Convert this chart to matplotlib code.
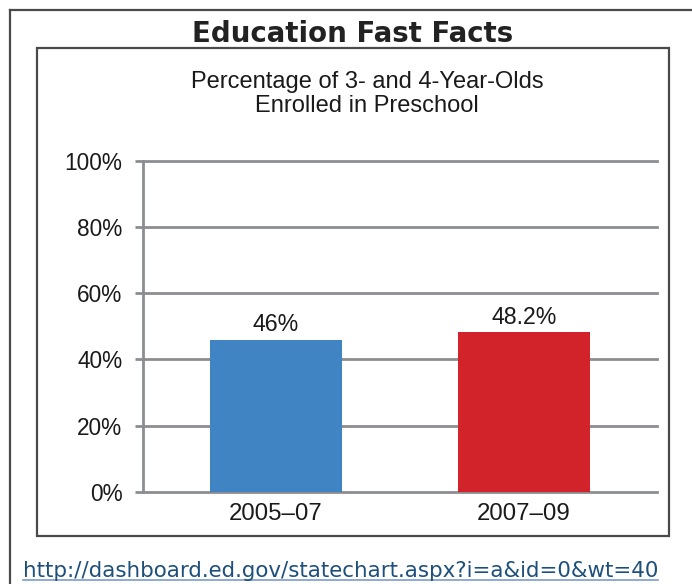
import matplotlib
matplotlib.use("Agg")
import matplotlib.pyplot as plt
from matplotlib.lines import Line2D

periods = ["2005\u201307", "2007\u201309"]
enrolled = [46.0, 48.2]
value_labels = ["46%", "48.2%"]
bar_colors = ["#4084c4", "#d2232a"]
y_ticks = [0, 20, 40, 60, 80, 100]

W, H = 692, 584
grid_gray = "#8b8d90"
frame_gray = "#4a4a4a"


def fx(px):
    return px / W


def fy(py):
    return 1 - py / H


fig = plt.figure(figsize=(W / 100, H / 100), dpi=100)
fig.patch.set_facecolor("white")

# outer panel edge (left and top only show)
fig.add_artist(Line2D([fx(10), fx(10)], [fy(10), 0], color=frame_gray, lw=1.6))
fig.add_artist(Line2D([fx(10), 1], [fy(10), fy(10)], color=frame_gray, lw=1.6))

# inner chart box
bx0, by0, bx1, by1 = 37, 48, 669, 536
fig.add_artist(plt.Rectangle((fx(bx0), fy(by1)), fx(bx1) - fx(bx0), fy(by0) - fy(by1),
                             transform=fig.transFigure, fill=False,
                             edgecolor=frame_gray, lw=1.6))

fig.text(fx(353), fy(42), "Education Fast Facts", ha="center", va="baseline",
         fontsize=19.9, fontweight="bold", family="DejaVu Sans", color="#222222")

fig.text(fx(367), fy(88), "Percentage of 3- and 4-Year-Olds", ha="center",
         va="baseline", fontsize=17, family="Liberation Sans", color="#1a1a1a")
fig.text(fx(367), fy(112), "Enrolled in Preschool", ha="center",
         va="baseline", fontsize=17, family="Liberation Sans", color="#1a1a1a")

ax = fig.add_axes([fx(143), fy(492), fx(657) - fx(143), fy(160.7) - fy(492)])
x = list(range(len(periods)))
bars = ax.bar(x, enrolled, width=0.532, color=bar_colors, zorder=3)

ax.set_xlim(-0.536, 1.536)
ax.set_ylim(0, 100)
ax.set_yticks(y_ticks)
ax.set_yticklabels([f"{t}%" for t in y_ticks])
ax.set_xticks(x)
ax.set_xticklabels(periods)

for t in y_ticks:
    ax.axhline(t, color=grid_gray, lw=2, zorder=1, clip_on=False)

for s in ["top", "right", "bottom"]:
    ax.spines[s].set_visible(False)
ax.spines["left"].set_color(grid_gray)
ax.spines["left"].set_linewidth(2)
ax.spines["left"].set_zorder(2)

ax.tick_params(axis="y", length=5.8, width=2, color=grid_gray, pad=9,
               labelsize=16.3, labelcolor="#1a1a1a")
ax.tick_params(axis="x", length=0, pad=8, labelsize=17.3, labelcolor="#1a1a1a")
for lab in ax.get_xticklabels() + ax.get_yticklabels():
    lab.set_family("Liberation Sans")

for bar, lab in zip(bars, value_labels):
    ax.annotate(lab, (bar.get_x() + bar.get_width() / 2, bar.get_height()),
                xytext=(0, 6), textcoords="offset points", ha="center",
                va="baseline", fontsize=16.7, family="Liberation Sans",
                color="#1a1a1a")

url = fig.text(fx(23), fy(577), "http://dashboard.ed.gov/statechart.aspx?i=a&id=0&wt=40",
               ha="left", va="baseline", fontsize=15.4, family="DejaVu Sans",
               color="#1d4f7c")
fig.canvas.draw()
bb = url.get_window_extent().transformed(fig.transFigure.inverted())
fig.add_artist(Line2D([bb.x0, bb.x1], [fy(580), fy(580)], color="#7d9ccc", lw=1.2))

fig.savefig("out.png", dpi=100, facecolor="white")
